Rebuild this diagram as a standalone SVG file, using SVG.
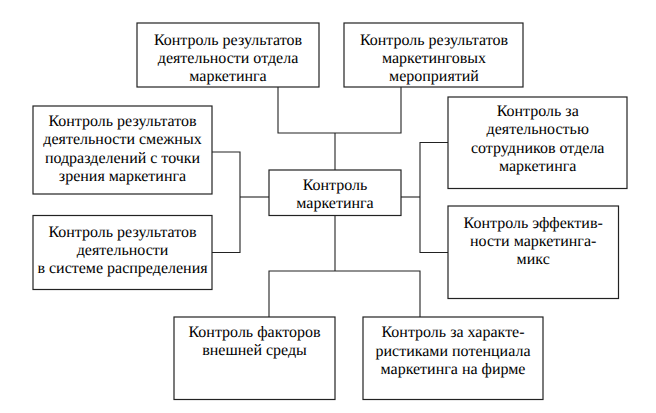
<svg xmlns="http://www.w3.org/2000/svg" width="656" height="413" viewBox="0 0 656 413">
<style>
.box{fill:#fff;stroke:#222;stroke-width:1.2}
.t{font-family:'Liberation Serif',serif;font-size:16px;fill:#000;text-anchor:middle;text-rendering:geometricPrecision}
.c{fill:none;stroke:#222;stroke-width:1.1}
</style>
<rect width="656" height="413" fill="#fff"/>
<g id="connectors" class="c">
<polyline points="278,87 278,133 401,133 401,87"/>
<line x1="335" y1="133" x2="335" y2="170"/>
<polyline points="212,152 240,152 240,252.5 212,252.5"/>
<line x1="240" y1="197" x2="269" y2="197"/>
<polyline points="448,142.5 420,142.5 420,252.5 448,252.5"/>
<line x1="401" y1="197" x2="420" y2="197"/>
<line x1="335" y1="215.5" x2="335" y2="271"/>
<polyline points="269,317 269,271 420,271 420,317"/>
</g>
<g id="n1"><rect class="box" x="137" y="23" width="182" height="64"/>
<text class="t" x="228" y="44.5">Контроль результатов</text>
<text class="t" x="228" y="63">деятельности отдела</text>
<text class="t" x="228" y="81.3">маркетинга</text></g>
<g id="n2"><rect class="box" x="344" y="23" width="179" height="64"/>
<text class="t" x="434" y="44.5">Контроль результатов</text>
<text class="t" x="434" y="63">маркетинговых</text>
<text class="t" x="434" y="81.3">мероприятий</text></g>
<g id="n3"><rect class="box" x="33" y="106" width="179" height="88"/>
<text class="t" x="122.5" y="126">Контроль результатов</text>
<text class="t" x="122.5" y="144.3">деятельности смежных</text>
<text class="t" x="122.5" y="162.6">подразделений с точки</text>
<text class="t" x="122.5" y="180.9">зрения маркетинга</text></g>
<g id="n4"><rect class="box" x="33" y="215.5" width="179" height="74"/>
<text class="t" x="122.5" y="236.5">Контроль результатов</text>
<text class="t" x="122.5" y="254.8">деятельности</text>
<text class="t" x="122.5" y="273.1">в системе распределения</text></g>
<g id="center"><rect class="box" x="269" y="170" width="132" height="45.5"/>
<text class="t" x="335" y="190">Контроль</text>
<text class="t" x="335" y="207.7">маркетинга</text></g>
<g id="n5"><rect class="box" x="448" y="97" width="179" height="91.5"/>
<text class="t" x="537.7" y="116">Контроль за</text>
<text class="t" x="537.7" y="134.3">деятельностью</text>
<text class="t" x="537.7" y="152.6">сотрудников отдела</text>
<text class="t" x="537.7" y="170.9">маркетинга</text></g>
<g id="n6"><rect class="box" x="448" y="206" width="170.5" height="92.5"/>
<text class="t" x="533.2" y="227.7">Контроль эффектив-</text>
<text class="t" x="533.2" y="246">ности маркетинга-</text>
<text class="t" x="533.2" y="264.3">микс</text></g>
<g id="n7"><rect class="box" x="174" y="317" width="161" height="82.5"/>
<text class="t" x="254.5" y="336.7">Контроль факторов</text>
<text class="t" x="254.5" y="355">внешней среды</text></g>
<g id="n8"><rect class="box" x="363" y="317" width="180" height="82.5"/>
<text class="t" x="453" y="337.3">Контроль за характе-</text>
<text class="t" x="453" y="355.6">ристиками потенциала</text>
<text class="t" x="453" y="373.9">маркетинга на фирме</text></g>
</svg>
